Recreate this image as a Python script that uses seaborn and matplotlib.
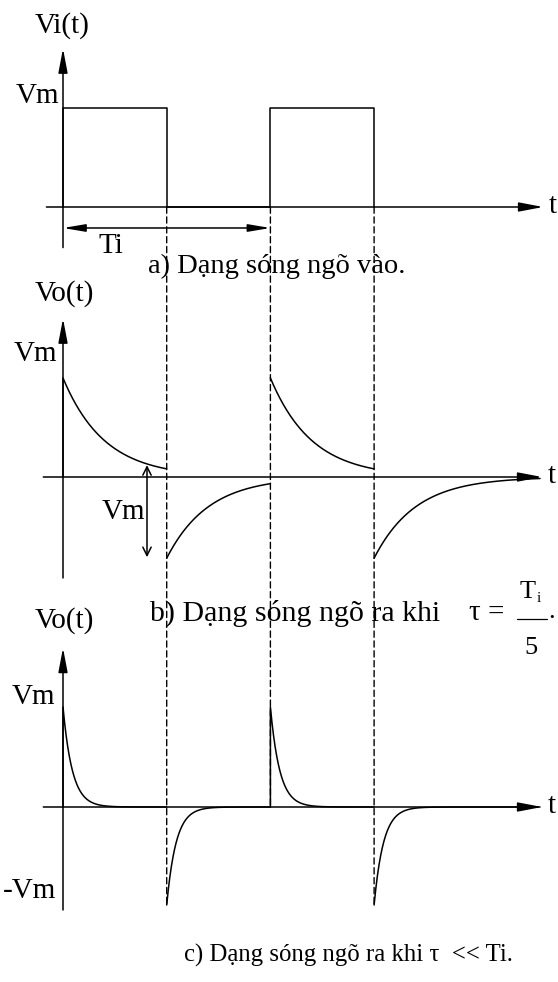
import numpy as np
import pandas as pd
import matplotlib
matplotlib.use("Agg")
import matplotlib.pyplot as plt
from matplotlib.patches import ConnectionPatch
from matplotlib.lines import Line2D
import seaborn as sns

# ---- waveform parameters (time in units of half a period, voltage in units of Vm) ----
Ti = 2.0                           # input period
Vm = 1.0
edge_times = [0.0, 1.0, 2.0, 3.0]  # switching instants of the input square wave
input_levels = [1.0, 0.0, 1.0, 0.0]

# b) tau = Ti/5
tau_b = Ti / 5
b_start_values = [1.0, -0.82, 1.0, -0.82]
b_durations = [1.0, 1.0, 1.0, 1.6]

# c) tau << Ti
tau_c = 0.09
c_start_values = [1.0, -0.98, 1.0, -0.98]
c_durations = [1.0, 1.0, 1.0, 1.6]

# ---- page geometry (pixels) ----
W, H, DPI = 558, 982, 100
T0_PX, PX_PER_T = 63.0, 103.7

sns.set_theme(style="white")
plt.rcParams["font.family"] = ["Liberation Serif", "DejaVu Serif"]

fig = plt.figure(figsize=(W / DPI, H / DPI), dpi=DPI)
fig.patch.set_facecolor("white")

LW = 1.1
FS = 21


def make_panel(top_px, bot_px, base_px, px_per_v):
    ax = fig.add_axes([0, 1 - bot_px / H, 1, (bot_px - top_px) / H])
    ax.set_axis_off()
    ax.patch.set_alpha(0)
    lims = ((-T0_PX / PX_PER_T, (W - T0_PX) / PX_PER_T),
            ((base_px - bot_px) / px_per_v, (base_px - top_px) / px_per_v))
    return ax, lims


def fix_limits(ax, lims):
    ax.set_xlim(*lims[0])
    ax.set_ylim(*lims[1])
    ax.set_axis_off()


def ftext(px, py, s, **kw):
    kw.setdefault("fontsize", FS)
    kw.setdefault("va", "center")
    kw.setdefault("ha", "center")
    fig.text(px / W, 1 - py / H, s, color="black", **kw)


def axis_arrows(ax, t_left, t_right, v_bottom, v_top):
    head = dict(arrowstyle="-|>,head_length=1.05,head_width=0.2",
                mutation_scale=14, lw=LW, color="black", shrinkA=0, shrinkB=0)
    ax.annotate("", xy=(t_right, 0), xytext=(t_left, 0), arrowprops=head)
    ax.annotate("", xy=(0, v_top), xytext=(0, v_bottom), arrowprops=head)


def rc_response(starts, values, durations, tau, rising_edge):
    rows = []
    for k, (ts, a, d) in enumerate(zip(starts, values, durations)):
        t = np.linspace(ts, ts + d, 400)
        v = a * np.exp(-(t - ts) / tau)
        if rising_edge[k]:
            t = np.concatenate([[ts], t])
            v = np.concatenate([[0.0], v])
        rows.append(pd.DataFrame({"t": t, "v": v, "seg": k}))
    return pd.concat(rows, ignore_index=True)


def draw_wave(ax, df):
    sns.lineplot(data=df, x="t", y="v", units="seg", estimator=None, sort=False,
                 color="black", lw=LW, ax=ax, legend=False)


# ---------------- a) input square wave ----------------
ax_a, lim_a = make_panel(0, 280, 207, 99)
sq_t, sq_v, prev = [], [], 0.0
for te, lv in zip(edge_times, input_levels):
    sq_t += [te, te]
    sq_v += [prev, lv]
    prev = lv
draw_wave(ax_a, pd.DataFrame({"t": sq_t, "v": sq_v, "seg": 0}))
fix_limits(ax_a, lim_a)
axis_arrows(ax_a, -0.16, 4.63, -0.41, 1.6)
ax_a.annotate("", xy=(Ti, -0.212), xytext=(0, -0.212),
              arrowprops=dict(arrowstyle="<|-|>,head_length=0.95,head_width=0.16",
                              mutation_scale=14, lw=LW, color="black",
                              shrinkA=0, shrinkB=0))
ftext(62, 26, "Vi(t)")
ftext(37, 96, "Vm")
ftext(111, 246, "Ti")
ftext(553, 206, "t")
ftext(148, 266, "a) Dạng sóng ngõ vào.", ha="left", fontsize=20.5)

# ---------------- b) output, tau = Ti/5 ----------------
ax_b, lim_b = make_panel(280, 600, 477, 99)
df_b = rc_response(edge_times, b_start_values, b_durations, tau_b,
                   [True, False, False, False])
draw_wave(ax_b, df_b)
fix_limits(ax_b, lim_b)
axis_arrows(ax_b, -0.19, 4.62, -1.02, 1.6)
ax_b.annotate("", xy=(0.81, -0.81), xytext=(0.81, 0.12),
              arrowprops=dict(arrowstyle="<->,head_length=0.6,head_width=0.3",
                              mutation_scale=10, lw=LW, color="black",
                              shrinkA=0, shrinkB=0))
ftext(64, 294, "Vo(t)")
ftext(35, 354, "Vm")
ftext(123, 512, "Vm")
ftext(552, 476, "t")
ftext(150, 613, "b) Dạng sóng ngõ ra khi", ha="left", fontsize=21.5)
ftext(469, 613, "τ =", ha="left", fontsize=21)
ftext(528, 592, "T", fontsize=19)
ftext(539, 598, "i", fontsize=11)
fig.add_artist(Line2D([517 / W, 547 / W], [1 - 619 / H, 1 - 619 / H],
                      color="black", lw=0.9))
ftext(531, 648, "5", fontsize=19)
ftext(552, 612, ".", fontsize=19)

# ---------------- c) output, tau << Ti ----------------
ax_c, lim_c = make_panel(600, 982, 807, 100)
df_c = rc_response(edge_times, c_start_values, c_durations, tau_c,
                   [True, False, True, False])
draw_wave(ax_c, df_c)
fix_limits(ax_c, lim_c)
axis_arrows(ax_c, -0.19, 4.62, -1.03, 1.59)
ftext(64, 621, "Vo(t)")
ftext(33, 697, "Vm")
ftext(30, 891, "-Vm")
ftext(552, 806, "t")
ftext(184, 955, "c) Dạng sóng ngõ ra khi τ  << Ti.", ha="left", fontsize=17.8)

# ---------------- dashed guides through all three panels ----------------
guide_ends = [c_start_values[1], 0.0, c_start_values[3]]
for te, v_end in zip(edge_times[1:], guide_ends):
    con = ConnectionPatch(xyA=(te, 0.0), coordsA="data", axesA=ax_a,
                          xyB=(te, v_end), coordsB="data", axesB=ax_c,
                          color="black", lw=1.0, linestyle=(0, (4.5, 2.6)))
    fig.add_artist(con)

fig.savefig("out.png", dpi=DPI, facecolor="white")
